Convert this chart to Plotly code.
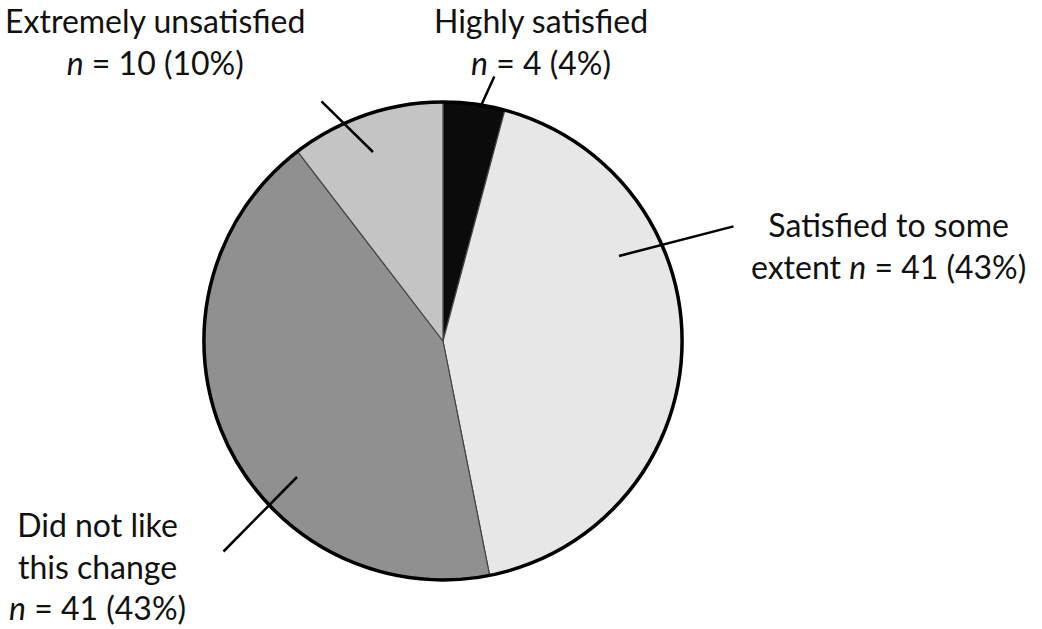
import plotly.graph_objects as go

categories = ["Highly satisfied", "Satisfied to some extent", "Did not like this change", "Extremely unsatisfied"]
counts = [4, 41, 41, 10]
percents = [4, 43, 43, 10]
slice_colors = ["#0b0b0b", "#e7e7e7", "#909090", "#c4c4c4"]

label_lines = {
    "Highly satisfied": ["Highly satisfied"],
    "Satisfied to some extent": ["Satisfied to some", "extent"],
    "Did not like this change": ["Did not like", "this change"],
    "Extremely unsatisfied": ["Extremely unsatisfied"],
}

W, H = 1042, 629
cx, cy, r = 443, 341, 239
dom_x = [(cx - r) / W, (cx + r) / W]
dom_y = [1 - (cy + r) / H, 1 - (cy - r) / H]

fig = go.Figure()
fig.add_trace(go.Pie(
    values=counts, labels=categories, sort=False, direction="clockwise", rotation=0,
    marker=dict(colors=slice_colors, line=dict(color="#444444", width=1.2)),
    textinfo="none", hoverinfo="skip", showlegend=False,
    domain=dict(x=dom_x, y=dom_y),
))
fig.add_trace(go.Pie(
    values=[1], labels=["outline"], sort=False,
    marker=dict(colors=["rgba(0,0,0,0)"], line=dict(color="#000000", width=3.5)),
    textinfo="none", hoverinfo="skip", showlegend=False,
    domain=dict(x=dom_x, y=dom_y),
))

def build_text(cat, n, p):
    lines = list(label_lines[cat])
    tail = f"<i>n</i> = {n} ({p}%)"
    if cat == "Satisfied to some extent":
        lines[-1] = lines[-1] + " " + tail
    else:
        lines.append(tail)
    return "<br>".join(lines)

# label placements (pixel centres of text blocks)
label_pos = {
    "Highly satisfied": (541, 41),
    "Satisfied to some extent": (888, 246),
    "Did not like this change": (97, 566),
    "Extremely unsatisfied": (155, 41),
}
# leader lines: (start px, end px)
leaders = {
    "Highly satisfied": ((495, 75), (480, 108)),
    "Satisfied to some extent": ((735, 226), (619, 256)),
    "Did not like this change": ((222, 553), (297, 477)),
    "Extremely unsatisfied": ((320, 100), (373, 152)),
}

font = dict(family="Lato, 'Open Sans', sans-serif", size=32, color="#111111")
for cat, n, p in zip(categories, counts, percents):
    px, py = label_pos[cat]
    fig.add_annotation(x=px / W, y=1 - py / H, xref="paper", yref="paper",
                       text=build_text(cat, n, p), showarrow=False, align="center",
                       font=font, xanchor="center", yanchor="middle")
    (x0, y0), (x1, y1) = leaders[cat]
    fig.add_annotation(x=x1 / W, y=1 - y1 / H, xref="paper", yref="paper",
                       ax=x0 - x1, ay=y0 - y1, text="", showarrow=True,
                       arrowhead=0, arrowwidth=2.5, arrowcolor="#000000", standoff=0, startstandoff=0)

fig.update_layout(width=W, height=H, margin=dict(l=0, r=0, t=0, b=0),
                  paper_bgcolor="white", plot_bgcolor="white")
fig.write_html("out.html", config={"displayModeBar": False},
               post_script="document.body.style.margin='0';document.body.style.overflow='hidden';")
